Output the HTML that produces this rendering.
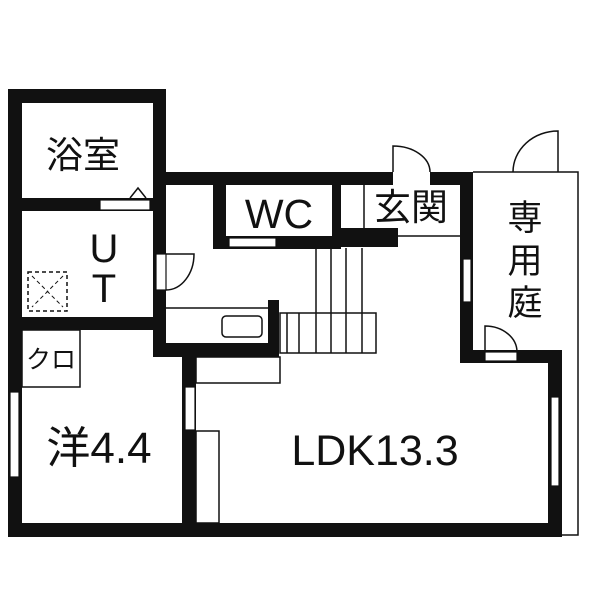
<!DOCTYPE html>
<html><head><meta charset="utf-8"><style>body{margin:0;background:#fff}svg{display:block}text{font-family:"Liberation Sans","Noto Sans CJK JP",sans-serif;fill:#111}</style></head><body>
<svg width="600" height="600" viewBox="0 0 600 600" xmlns="http://www.w3.org/2000/svg">
<g fill="none" stroke="#111" stroke-width="1.5">
<path d="M473 172 H578 V535 H562"/>
<path d="M393 172 V146 A37 26 0 0 1 430 172"/>
<path d="M558 172 V131 A45 41 0 0 0 513 172"/>
<path d="M485 352 V326 A32 26 0 0 1 517 352"/>
<path d="M166 290 A28 36 0 0 0 194 254 H166"/>
<path d="M342 240 Q363 252 385 240"/>
<path d="M130 198 L138 188 L146 198"/>
<line x1="364" y1="185" x2="364" y2="228"/>
<line x1="398" y1="236" x2="462" y2="236"/>
<line x1="166" y1="308" x2="268" y2="308"/>
<rect x="222" y="316" width="40" height="21" rx="4"/>
<rect x="196" y="357" width="84" height="26"/>
<rect x="196" y="431" width="23" height="92"/>
<rect x="22" y="330" width="58" height="57"/>
<line x1="316" y1="248" x2="316" y2="353"/><line x1="331" y1="248" x2="331" y2="353"/>
<line x1="346" y1="248" x2="346" y2="353"/><line x1="362" y1="248" x2="362" y2="353"/>
<rect x="280" y="313" width="96" height="40"/>
<line x1="299" y1="313" x2="299" y2="353"/>
<line x1="287" y1="313" x2="287" y2="353"/>
</g>
<rect x="28" y="272" width="39" height="39" fill="none" stroke="#111" stroke-width="1.5" stroke-dasharray="4,3"/>
<path d="M32 276 L63 307 M63 276 L32 307" stroke="#111" stroke-width="1" stroke-dasharray="4,3"/>
<g fill="#111">
<rect x="8" y="89" width="158" height="14"/>
<rect x="8" y="89" width="14" height="448"/>
<rect x="153" y="89" width="13" height="268"/>
<rect x="8" y="198" width="145" height="13"/>
<rect x="8" y="317" width="158" height="13"/>
<rect x="166" y="172" width="227" height="13"/>
<rect x="430" y="172" width="43" height="13"/>
<rect x="213" y="172" width="13" height="77"/>
<rect x="213" y="236" width="128" height="13"/>
<rect x="332" y="172" width="9" height="77"/>
<rect x="341" y="228" width="57" height="19"/>
<rect x="460" y="172" width="13" height="191"/>
<rect x="460" y="350" width="102" height="13"/>
<rect x="548" y="350" width="14" height="187"/>
<rect x="8" y="523" width="554" height="14"/>
<rect x="182" y="343" width="14" height="194"/>
<rect x="153" y="343" width="126" height="14"/>
<rect x="268" y="300" width="11" height="57"/>
</g>
<g fill="#fff" stroke="#111" stroke-width="1.2">
<rect x="100" y="200" width="50" height="10"/>
<rect x="156" y="254" width="10" height="36"/>
<rect x="229" y="238" width="47" height="9"/>
<rect x="463" y="259" width="8" height="43"/>
<rect x="485" y="352" width="32" height="9"/>
<rect x="551" y="397" width="8" height="89"/>
<rect x="10" y="392" width="9" height="85"/>
<rect x="185" y="387" width="10" height="43"/>
<rect x="394" y="174" width="36" height="9" stroke="none"/>
</g>
<text x="83" y="168" font-size="37" text-anchor="middle">浴室</text>
<text x="279" y="228" font-size="41" text-anchor="middle">WC</text>
<text x="411" y="220" font-size="37" text-anchor="middle">玄関</text>
<text x="525" y="230" font-size="35" text-anchor="middle">専</text>
<text x="525" y="273" font-size="35" text-anchor="middle">用</text>
<text x="525" y="315" font-size="35" text-anchor="middle">庭</text>
<text x="104" y="262" font-size="40" text-anchor="middle">U</text>
<text x="104" y="302" font-size="40" text-anchor="middle">T</text>
<text x="51" y="368" font-size="25" text-anchor="middle">クロ</text>
<text x="99" y="463" font-size="44" text-anchor="middle">洋4.4</text>
<text x="375" y="465" font-size="43" text-anchor="middle">LDK13.3</text>
</svg>
</body></html>
